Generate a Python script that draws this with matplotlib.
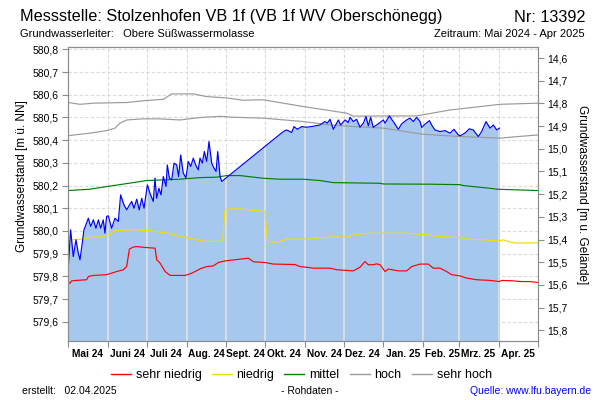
import numpy as np
import pandas as pd
import matplotlib
matplotlib.use("Agg")
import matplotlib.pyplot as plt
from matplotlib.lines import Line2D
from matplotlib.ticker import FixedLocator, FuncFormatter, NullFormatter

plt.rcParams['font.family'] = ['Liberation Sans', 'DejaVu Sans']

# Messwerte (Tage seit 01.05.2024, Wasserstand m ü. NN)
blue_tage = [0, 1.8, 3.9, 6.0, 7.8, 9.1, 11.2, 12.2, 15.6, 17.4,
             19.5, 21.5, 23.4, 25.2, 27.2, 28.5, 29.8, 31.1, 33.7, 36.3,
             38.9, 40.7, 43.3, 45.4, 47.2, 49.3, 51.1, 53.2, 55.2, 57.1,
             58.9, 61.5, 63.5, 66.1, 67.4, 68.7, 70.5, 72.1, 73.9, 76.0,
             77.0, 78.6, 80.4, 82.2, 84.3, 85.8, 87.4, 89.4, 91.5, 93.3,
             95.2, 97.2, 99.0, 101.1, 102.4, 104.2, 105.8, 107.6, 109.4, 111.5,
             113.3, 114.9, 116.2, 118.0, 119.3,
             167.2, 169.8, 173.7, 175.5, 178.1, 181.5, 184.9, 189.2, 195.7, 199.6,
             201.4, 203.5, 206.1, 210.0, 211.8, 215.2, 217.7,
             219.1, 221.6, 224.2, 226.8, 229.4, 231.5, 233.3, 235.1, 237.1, 239.8,
             242.4, 244.9, 246.3, 249.6, 252.7, 256.7, 259.2, 263.1, 265.7, 268.3,
             270.9, 273.5, 274.8, 278.2, 280.8, 282.5, 285.1, 289.0, 292.9, 296.8,
             299.9, 303.3, 304.6, 308.4, 311.8, 314.9, 318.8, 321.4, 324.8, 327.9,
             330.5, 333.1, 335.2]
blue_werte = [579.836, 580.005, 579.887, 579.961, 579.902, 579.873, 579.961, 580.005, 580.056, 580.020,
              580.049, 580.012, 580.049, 580.012, 580.049, 579.990, 580.064, 580.067, 580.012, 580.056,
              580.042, 580.159, 580.115, 580.093, 580.111, 580.130, 580.100, 580.140, 580.093, 580.144,
              580.100, 580.203, 580.166, 580.130, 580.233, 580.144, 580.188, 580.159, 580.240, 580.196,
              580.291, 580.233, 580.225, 580.299, 580.291, 580.240, 580.335, 580.255, 580.233, 580.306,
              580.284, 580.321, 580.291, 580.269, 580.321, 580.299, 580.350, 580.306, 580.394, 580.299,
              580.277, 580.262, 580.350, 580.240, 580.218,
              580.438, 580.445, 580.434, 580.460, 580.448, 580.460, 580.457, 580.460, 580.467, 580.482,
              580.475, 580.492, 580.448, 580.489, 580.467, 580.489, 580.478,
              580.501, 580.482, 580.492, 580.457, 580.475, 580.504, 580.463, 580.501, 580.457, 580.467,
              580.478, 580.489, 580.475, 580.507, 580.482, 580.448, 580.472, 580.489, 580.497, 580.482,
              580.501, 580.482, 580.456, 580.475, 580.486, 580.467, 580.445, 580.438, 580.442, 580.431,
              580.448, 580.423, 580.419, 580.431, 580.450, 580.445, 580.416, 580.438, 580.482, 580.453,
              580.467, 580.445, 580.453]

# Kennlinien
sn_tage = [0, 1.4, 2.5, 6.4, 14.3, 15.6, 19.5, 29.3, 33.7, 37.6, 42.8, 45.4, 47.5, 50.6, 53.2,
           60.2, 67.5, 68.8, 71.4, 75.3, 79.2, 90.8, 94.8, 98.6, 102.5, 107.6, 112.8, 116.7, 122,
           140, 144, 153, 159.4, 176.3, 180.2, 186.7, 190.5, 203.5, 208.7, 221.6, 226.8, 230.7,
           233.3, 237.2, 239.8, 242.4, 246.3, 248.9, 256.7, 263.1, 267.0, 273.5, 279.9, 283.8,
           289.0, 294.2, 298.1, 304.6, 309.8, 317.6, 327.9, 335.2, 337, 346, 351.2, 359, 365]
sn_werte = [579.774, 579.770, 579.780, 579.782, 579.785, 579.799, 579.804, 579.807, 579.814, 579.821,
            579.829, 579.843, 579.920, 579.929, 579.931, 579.927, 579.924, 579.873, 579.858, 579.821,
            579.804, 579.804, 579.811, 579.821, 579.833, 579.843, 579.846, 579.861, 579.868, 579.880,
            579.864, 579.861, 579.854, 579.852, 579.843, 579.839, 579.836, 579.836, 579.829, 579.824,
            579.840, 579.865, 579.851, 579.851, 579.855, 579.851, 579.821, 579.832, 579.824, 579.824,
            579.843, 579.854, 579.854, 579.836, 579.836, 579.821, 579.807, 579.802, 579.792, 579.785,
            579.782, 579.777, 579.782, 579.780, 579.777, 579.777, 579.773]

ni_tage = [0, 2.6, 10.4, 16.9, 27.3, 32.4, 36.3, 49.3, 51.9, 55.8, 62.3, 68.8, 74.0, 80.4, 86.9,
           92.1, 99.9, 105.0, 120.0, 121.9, 128.4, 136.1, 143.9, 153.0, 154.8, 159.4, 164.6, 169.8,
           187.9, 190.5, 203.5, 216.4, 224.2, 237.1, 265.7, 270.9, 278.6, 289.0, 304.6, 309.8,
           322.7, 335.2, 338.3, 343.5, 348.6, 365]
ni_werte = [579.953, 579.961, 579.964, 579.971, 579.975, 579.986, 580.002, 580.005, 580.008, 580.002,
            580.002, 579.996, 579.993, 579.986, 579.975, 579.971, 579.961, 579.954, 579.954, 580.095,
            580.098, 580.096, 580.090, 580.086, 579.954, 579.951, 579.954, 579.964, 579.964, 579.968,
            579.973, 579.973, 579.986, 579.990, 579.990, 579.986, 579.983, 579.975, 579.971, 579.964,
            579.961, 579.956, 579.961, 579.951, 579.946, 579.948]

mi_tage = [0, 16.9, 24.7, 35.1, 50.6, 60.9, 73.9, 86.9, 102.4, 115.4, 123.2, 133.5, 151.7, 164.6,
           182.8, 195.7, 206.1, 242.4, 245.0, 281.2, 304.6, 307.2, 327.9, 333.1, 348.6, 365]
mi_werte = [580.178, 580.184, 580.191, 580.200, 580.213, 580.222, 580.225, 580.228, 580.235, 580.237,
            580.244, 580.244, 580.232, 580.228, 580.228, 580.222, 580.213, 580.210, 580.207, 580.206,
            580.204, 580.200, 580.188, 580.184, 580.181, 580.178]

ho_tage = [0, 16.9, 29.8, 36.3, 40.2, 45.4, 58.4, 71.3, 86.9, 102.4, 118.0, 128.4, 151.7, 182.8,
           203.5, 221.6, 244.9, 276.0, 304.6, 335.7, 343.5, 365]
ho_werte = [580.420, 580.431, 580.442, 580.453, 580.475, 580.489, 580.494, 580.494, 580.489, 580.500,
            580.505, 580.501, 580.497, 580.482, 580.467, 580.460, 580.453, 580.426, 580.416, 580.409,
            580.413, 580.423]

sh_tage = [0, 9.1, 19.5, 45.4, 60.9, 73.9, 80.4, 97.2, 107.6, 123.2, 136.1, 151.7, 182.8, 216.5,
           221.6, 270.9, 296.8, 335.7, 365]
sh_werte = [580.566, 580.558, 580.563, 580.566, 580.575, 580.580, 580.604, 580.604, 580.592, 580.586,
            580.576, 580.578, 580.548, 580.519, 580.506, 580.507, 580.533, 580.558, 580.563]

links_ticks = [579.6, 579.7, 579.8, 579.9, 580.0, 580.1, 580.2, 580.3, 580.4, 580.5, 580.6, 580.7, 580.8]
rechts_ticks = [14.6, 14.7, 14.8, 14.9, 15.0, 15.1, 15.2, 15.3, 15.4, 15.5, 15.6, 15.7, 15.8]
monate = ['Mai 24', 'Juni 24', 'Juli 24', 'Aug. 24', 'Sept. 24', 'Okt. 24', 'Nov. 24',
          'Dez. 24', 'Jan. 25', 'Feb. 25', 'Mrz. 25', 'Apr. 25']
gelaende = 595.362  # Geländehöhe m ü. NN

start = pd.Timestamp('2024-05-01')


def tage(d):
    return start + pd.to_timedelta(np.asarray(d, dtype=float), unit='D')


ylim = (579.515, 580.812)
monatsanfang = pd.date_range('2024-05-01', periods=13, freq='MS')
monatsmitte = monatsanfang[:-1] + pd.Timedelta(days=15)

fig = plt.figure(figsize=(6, 4), dpi=100)
ax = fig.add_axes([0.1138, 0.1475, 0.7824, 0.7358])
ax.set_xlim(monatsanfang[0], monatsanfang[-1])
ax.set_ylim(*ylim)

gridfarbe = '#dadada'
for y in links_ticks:
    ax.axhline(y, color=gridfarbe, lw=0.8, ls=(0, (3, 2)), zorder=0)
for m in monatsanfang[1:-1]:
    ax.axvline(m, color=gridfarbe, lw=0.8, ls=(0, (3, 2)), zorder=0)

fill = ax.fill_between(tage(blue_tage), blue_werte, ylim[0], color='#a6c8ef', lw=0, zorder=1)
pfad = fill.get_paths()[0]
for m in monatsanfang[1:-1]:
    l = ax.axvline(m, color='#e2e2e2', lw=1.2, zorder=1.5)
    l.set_clip_path(pfad, ax.transData)

lw = 0.85
ax.plot(tage(sh_tage), sh_werte, color='#9a9a9a', lw=lw, zorder=2)
ax.plot(tage(ho_tage), ho_werte, color='#9a9a9a', lw=lw, zorder=2)
ax.plot(tage(mi_tage), mi_werte, color='#008000', lw=lw, zorder=2)
ax.plot(tage(ni_tage), ni_werte, color='#f2dc00', lw=lw, zorder=2)
ax.plot(tage(sn_tage), sn_werte, color='#ff0000', lw=lw, zorder=2)
ax.plot(tage(blue_tage), blue_werte, color='#0000ff', lw=lw, zorder=3)

achsfarbe = '#8c8c8c'
for s in ax.spines.values():
    s.set_color(achsfarbe)

komma = FuncFormatter(lambda v, p: f"{v:.1f}".replace('.', ','))
ax.yaxis.set_major_locator(FixedLocator(links_ticks))
ax.yaxis.set_major_formatter(komma)
ax.tick_params(axis='y', length=4, color=achsfarbe, labelsize=7.5, pad=3)

ax.xaxis.set_major_locator(FixedLocator([matplotlib.dates.date2num(m) for m in monatsanfang]))
ax.xaxis.set_major_formatter(NullFormatter())
ax.xaxis.set_minor_locator(FixedLocator([matplotlib.dates.date2num(m) for m in monatsmitte]))
ax.xaxis.set_minor_formatter(FuncFormatter(lambda v, p: monate[p] if p is not None and p < len(monate) else ''))
ax.tick_params(axis='x', which='major', length=4, color=achsfarbe)
ax.tick_params(axis='x', which='minor', length=0, labelsize=7.3, pad=6)
for t in ax.xaxis.get_minorticklabels():
    t.set_fontweight('bold')

ax2 = ax.twinx()
ax2.set_ylim(gelaende - ylim[0], gelaende - ylim[1])
ax2.yaxis.set_major_locator(FixedLocator(rechts_ticks))
ax2.yaxis.set_major_formatter(komma)
ax2.tick_params(axis='y', length=4, color=achsfarbe, labelsize=7.5, pad=3)
for s in ax2.spines.values():
    s.set_color(achsfarbe)

fig.text(20 / 600, 1 - 17 / 400, 'Messstelle: Stolzenhofen VB 1f (VB 1f WV Oberschönegg)',
         fontsize=11.7, va='center', ha='left')
fig.text(585 / 600, 1 - 17 / 400, 'Nr: 13392', fontsize=11.7, va='center', ha='right')
fig.text(20 / 600, 1 - 34 / 400, 'Grundwasserleiter:   Obere Süßwassermolasse', fontsize=8, va='center')
fig.text(585 / 600, 1 - 34 / 400, 'Zeitraum: Mai 2024 - Apr 2025', fontsize=8, va='center', ha='right')
fig.text(22 / 600, 1 - 176 / 400, 'Grundwasserstand [m ü. NN]', fontsize=8.5, rotation=90,
         va='center', ha='center')
fig.text(582 / 600, 1 - 195 / 400, 'Grundwasserstand [m u. Gelände]', fontsize=8.5, rotation=270,
         va='center', ha='center')

handles = [Line2D([], [], color=c, lw=1) for c in ['#ff0000', '#f2dc00', '#008000', '#9a9a9a', '#9a9a9a']]
fig.legend(handles, ['sehr niedrig', 'niedrig', 'mittel', 'hoch', 'sehr hoch'], ncol=5,
           loc='center', bbox_to_anchor=(0.502, 1 - 375 / 400), frameon=False, fontsize=9,
           handlelength=1.6, handletextpad=0.4, columnspacing=0.8)

fig.text(22 / 600, 1 - 391 / 400, 'erstellt:   02.04.2025', fontsize=7.5, va='center')
fig.text(310 / 600, 1 - 391 / 400, '- Rohdaten -', fontsize=7.5, va='center', ha='center')
fig.text(591 / 600, 1 - 391 / 400, 'Quelle: www.lfu.bayern.de', fontsize=7.5, va='center', ha='right',
         color='#0000ff')

fig.savefig('out.png', dpi=100)
